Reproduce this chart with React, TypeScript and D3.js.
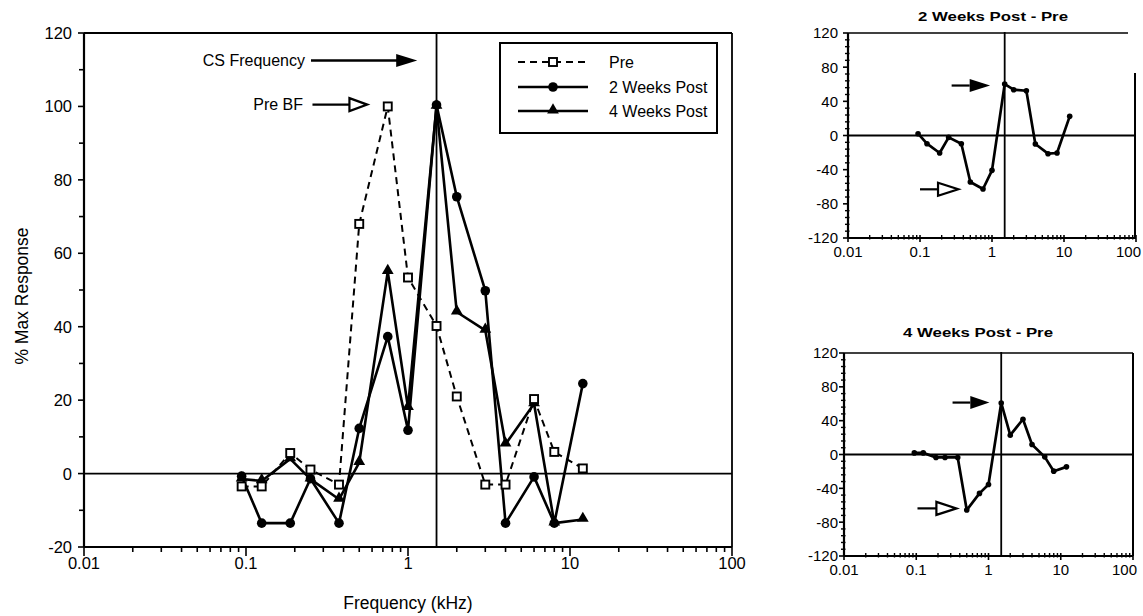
import React from "react";
import * as d3 from "d3";

// ---------- data ----------
const frequencies = [0.094, 0.125, 0.1875, 0.25, 0.375, 0.5, 0.75, 1, 1.5, 2, 3, 4, 6, 8, 12];
const preValues = [-3.5, -3.5, 5.6, 1.1, -3, 68, 100, 53.4, 40.2, 21, -3, -3, 20.3, 5.9, 1.4];
const week2Values = [-0.7, -13.5, -13.5, -1.4, -13.5, 12.3, 37.3, 11.8, 100.4, 75.4, 49.8, -13.5, -0.9, -13.5, 24.5];
const week4Values = [-1.5, -2, 4, -1.5, -7, 3, 55, 18, 100, 44, 39, 8, 19, -13.5, -12.5];
const diff2Values = [2.1, -9.6, -20.5, -2.2, -9.6, -54.4, -62.6, -40.8, 60.2, 53.6, 52.4, -10, -21.3, -20.5, 22.4];
const diff4Values = [1.9, 1.9, -3.5, -3.5, -3.5, -65.7, -46, -35.4, 60.9, 22.8, 41.7, 11.8, -2.8, -19.7, -14.6];
const csFrequency = 1.5;
const xMajorTicks = [0.01, 0.1, 1, 10, 100];
const xTickLabels = ["0.01", "0.1", "1", "10", "100"];
const mainYTicks = [-20, 0, 20, 40, 60, 80, 100, 120];
const diffYTicks = [-120, -80, -40, 0, 40, 80, 120];
const legendLabels = ["Pre", "2 Weeks Post", "4 Weeks Post"];

const FONT = "'Liberation Sans', Arial, Helvetica, sans-serif";

const xMinorTicks: number[] = [];
[0.01, 0.1, 1, 10].forEach((d) => {
  for (let m = 2; m <= 9; m++) xMinorTicks.push(d * m);
});

type Pt = [number, number];
const zip = (xs: number[], ys: number[]): Pt[] => xs.map((v, i) => [v, ys[i]]);

function MainChart() {
  const x = d3.scaleLog().domain([0.01, 100]).range([84, 732]);
  const y = d3.scaleLinear().domain([-20, 120]).range([547, 33]);
  const line = d3.line<Pt>().x((d) => x(d[0])).y((d) => y(d[1]));
  const pre = zip(frequencies, preValues);
  const w2 = zip(frequencies, week2Values);
  const w4 = zip(frequencies, week4Values);
  const tri = d3.symbol(d3.symbolTriangle, 60)();
  const [x0, x1] = x.range();
  const [y0, y1] = y.range();
  const yMinor = d3.range(-10, 120, 20);

  // annotations
  const csY = y(112.5);
  const csTip = x(1.14);
  const bfY = y(100.5);
  const bfStart = x(0.25);
  const bfBase = x(0.435);
  const bfTip = x(0.56);

  // legend
  const lgX = 500, lgY = 43, lgW = 217, lgH = 90;
  const rows = [62, 87, 111];

  return (
    <g>
      {/* plot box */}
      <line x1={x0} x2={x1} y1={y1} y2={y1} stroke="#000" strokeWidth={1.8} />
      <line x1={x1} x2={x1} y1={y1} y2={y0} stroke="#000" strokeWidth={1.8} />
      <line x1={x0} x2={x1} y1={y0} y2={y0} stroke="#000" strokeWidth={2.2} />
      <line x1={x0} x2={x0} y1={y1} y2={y0} stroke="#000" strokeWidth={2.2} />
      {/* zero line & CS line */}
      <line x1={x0} x2={x1} y1={y(0)} y2={y(0)} stroke="#000" strokeWidth={1.8} />
      <line x1={x(csFrequency)} x2={x(csFrequency)} y1={y1} y2={y0} stroke="#000" strokeWidth={1.8} />
      {/* y ticks */}
      {mainYTicks.map((t) => (
        <g key={"yt" + t}>
          <line x1={x0 - 6} x2={x0} y1={y(t)} y2={y(t)} stroke="#000" strokeWidth={1.6} />
          <text x={x0 - 12} y={y(t)} dy="0.36em" textAnchor="end" fontSize={16.5} fontFamily={FONT}>
            {t}
          </text>
        </g>
      ))}
      {yMinor.map((t) => (
        <line key={"ym" + t} x1={x0 - 5} x2={x0} y1={y(t)} y2={y(t)} stroke="#000" strokeWidth={1.6} />
      ))}
      {/* x ticks */}
      {xMajorTicks.map((t, i) => (
        <g key={"xt" + t}>
          <line x1={x(t)} x2={x(t)} y1={y0} y2={y0 + 9} stroke="#000" strokeWidth={1.6} />
          <text x={x(t)} y={y0 + 22} textAnchor="middle" fontSize={16.5} fontFamily={FONT}>
            {xTickLabels[i]}
          </text>
        </g>
      ))}
      {xMinorTicks.map((t) => (
        <line key={"xm" + t} x1={x(t)} x2={x(t)} y1={y0} y2={y0 + 5} stroke="#000" strokeWidth={1.6} />
      ))}
      {/* axis titles */}
      <text x={408} y={609} textAnchor="middle" fontSize={17.5} fontFamily={FONT}>
        Frequency (kHz)
      </text>
      <text
        transform={`translate(28,296) rotate(-90)`}
        textAnchor="middle"
        fontSize={17.5}
        fontFamily={FONT}
      >
        % Max Response
      </text>

      {/* series lines */}
      <path d={line(pre) || ""} fill="none" stroke="#000" strokeWidth={2} strokeDasharray="7,5" />
      <path d={line(w2) || ""} fill="none" stroke="#000" strokeWidth={2.6} strokeLinejoin="round" />
      <path d={line(w4) || ""} fill="none" stroke="#000" strokeWidth={2.6} strokeLinejoin="round" />
      {w4.map((d, i) => (
        <path key={"t" + i} d={tri || ""} transform={`translate(${x(d[0])},${y(d[1]) - 1})`} fill="#000" />
      ))}
      {w2.map((d, i) => (
        <circle key={"c" + i} cx={x(d[0])} cy={y(d[1])} r={4.8} fill="#000" />
      ))}
      {pre.map((d, i) => (
        <rect key={"s" + i} x={x(d[0]) - 4} y={y(d[1]) - 4} width={8} height={8} fill="#fff" stroke="#000" strokeWidth={1.9} />
      ))}

      {/* annotations */}
      <text x={305} y={csY} dy="0.36em" textAnchor="end" fontSize={16} fontFamily={FONT}>
        CS Frequency
      </text>
      <line x1={311} x2={csTip - 18} y1={csY} y2={csY} stroke="#000" strokeWidth={2.4} />
      <path d={`M${csTip - 21},${csY - 6.5}L${csTip},${csY}L${csTip - 21},${csY + 6.5}Z`} fill="#000" />
      <text x={303} y={bfY} dy="0.36em" textAnchor="end" fontSize={16} fontFamily={FONT}>
        Pre BF
      </text>
      <line x1={bfStart + 2} x2={bfBase} y1={bfY} y2={bfY} stroke="#000" strokeWidth={2.4} />
      <path d={`M${bfBase},${bfY - 6.5}L${bfTip},${bfY}L${bfBase},${bfY + 6.5}Z`} fill="#fff" stroke="#000" strokeWidth={2.2} />

      {/* legend */}
      <rect x={lgX} y={lgY} width={lgW} height={lgH} fill="#fff" stroke="#000" strokeWidth={2} />
      {legendLabels.map((lab, i) => (
        <g key={lab}>
          <line
            x1={518}
            x2={588}
            y1={rows[i]}
            y2={rows[i]}
            stroke="#000"
            strokeWidth={i === 0 ? 2 : 2.6}
            strokeDasharray={i === 0 ? "7,5" : undefined}
          />
          {i === 0 && <rect x={549} y={rows[i] - 4} width={8} height={8} fill="#fff" stroke="#000" strokeWidth={1.9} />}
          {i === 1 && <circle cx={553} cy={rows[i]} r={4.8} fill="#000" />}
          {i === 2 && <path d={tri || ""} transform={`translate(553,${rows[i] - 1})`} fill="#000" />}
          <text x={609} y={rows[i]} dy="0.36em" fontSize={16} fontFamily={FONT}>
            {lab}
          </text>
        </g>
      ))}
    </g>
  );
}

type DiffProps = {
  title: string;
  titleX: number;
  titleY: number;
  values: number[];
  xr: [number, number];
  yr: [number, number];
  labelRight: number;
  lastLabelRight: number;
  topEnd: number;
  rightStart: number;
  rightX: number;
  filledArrow: { y: number; from: number; base: number; tip: number };
  hollowArrow: { y: number; from: number; base: number; tip: number };
};

function DiffChart(p: DiffProps) {
  const x = d3.scaleLog().domain([0.01, 100]).range(p.xr);
  const y = d3.scaleLinear().domain([-120, 120]).range(p.yr);
  const line = d3.line<Pt>().x((d) => x(d[0])).y((d) => y(d[1]));
  const pts = zip(frequencies, p.values);
  const [x0, x1] = x.range();
  const [y0, y1] = y.range();
  const yMinor = d3.range(-120, 121, 8).filter((v) => v % 40 !== 0);
  const fa = p.filledArrow;
  const ha = p.hollowArrow;
  const fy = y(fa.y), hy = y(ha.y);
  const last = xMajorTicks.length - 1;
  return (
    <g>
      <line x1={x0} x2={p.topEnd} y1={y1} y2={y1} stroke="#000" strokeWidth={1.7} />
      <line x1={p.rightX} x2={p.rightX} y1={p.rightStart} y2={y0} stroke="#000" strokeWidth={2} />
      <line x1={x0} x2={x1} y1={y0} y2={y0} stroke="#000" strokeWidth={2.2} />
      <line x1={x0} x2={x0} y1={y1} y2={y0} stroke="#000" strokeWidth={2.2} />
      <line x1={x0} x2={p.rightX} y1={y(0)} y2={y(0)} stroke="#000" strokeWidth={1.8} />
      <line x1={x(csFrequency)} x2={x(csFrequency)} y1={y1 - 1} y2={y0} stroke="#000" strokeWidth={1.8} />
      {diffYTicks.map((t) => (
        <g key={"yt" + t}>
          <line x1={x0 - 5} x2={x0} y1={y(t)} y2={y(t)} stroke="#000" strokeWidth={1.6} />
          <text x={p.labelRight} y={y(t)} dy="0.36em" textAnchor="end" fontSize={15} fontFamily={FONT}>
            {t}
          </text>
        </g>
      ))}
      {yMinor.map((t) => (
        <line key={"ym" + t} x1={x0 - 3} x2={x0 + 1.5} y1={y(t)} y2={y(t)} stroke="#000" strokeWidth={1.4} />
      ))}
      {xMajorTicks.map((t, i) => (
        <g key={"xt" + t}>
          <line x1={x(t)} x2={x(t)} y1={y0 - 3} y2={y0 + 4} stroke="#000" strokeWidth={1.6} />
          <text
            x={i === last ? p.lastLabelRight : x(t)}
            y={y0 + 19}
            textAnchor={i === last ? "end" : "middle"}
            fontSize={15}
            fontFamily={FONT}
          >
            {xTickLabels[i]}
          </text>
        </g>
      ))}
      {xMinorTicks.map((t) => (
        <line key={"xm" + t} x1={x(t)} x2={x(t)} y1={y0 - 3} y2={y0 + 1.5} stroke="#000" strokeWidth={1.4} />
      ))}
      <text
        x={p.titleX}
        y={p.titleY}
        textAnchor="middle"
        fontSize={13}
        fontWeight="bold"
        fontFamily={FONT}
        textLength={150}
        lengthAdjust="spacingAndGlyphs"
      >
        {p.title}
      </text>
      <path d={line(pts) || ""} fill="none" stroke="#000" strokeWidth={2.7} strokeLinejoin="round" />
      {pts.map((d, i) => (
        <circle key={i} cx={x(d[0])} cy={y(d[1])} r={2.8} fill="#000" />
      ))}
      {/* arrows */}
      <line x1={x(fa.from)} x2={x(fa.base)} y1={fy} y2={fy} stroke="#000" strokeWidth={2.2} />
      <path d={`M${x(fa.base)},${fy - 6.5}L${x(fa.tip)},${fy}L${x(fa.base)},${fy + 6.5}Z`} fill="#000" />
      <line x1={x(ha.from)} x2={x(ha.base)} y1={hy} y2={hy} stroke="#000" strokeWidth={2.2} />
      <path d={`M${x(ha.base)},${hy - 6.5}L${x(ha.tip)},${hy}L${x(ha.base)},${hy + 6.5}Z`} fill="#fff" stroke="#000" strokeWidth={2.2} />
    </g>
  );
}

export default function App() {
  return (
    <svg
      width={1143}
      height={616}
      viewBox="0 0 1143 616"
      style={{ position: "absolute", left: 0, top: 0, background: "#fff" }}
    >
      <rect x={0} y={0} width={1143} height={616} fill="#fff" />
      <MainChart />
      <DiffChart
        title="2 Weeks Post - Pre"
        titleX={993}
        titleY={21}
        values={diff2Values}
        xr={[848, 1136]}
        yr={[238, 33]}
        labelRight={838}
        lastLabelRight={1141}
        topEnd={1128}
        rightStart={73}
        rightX={1135}
        filledArrow={{ y: 58.5, from: 0.275, base: 0.49, tip: 0.94 }}
        hollowArrow={{ y: -63, from: 0.1, base: 0.178, tip: 0.34 }}
      />
      <DiffChart
        title="4 Weeks Post - Pre"
        titleX={978}
        titleY={337}
        values={diff4Values}
        xr={[844, 1133]}
        yr={[556, 353]}
        labelRight={838}
        lastLabelRight={1137}
        topEnd={1133}
        rightStart={353}
        rightX={1133}
        filledArrow={{ y: 61.4, from: 0.318, base: 0.56, tip: 1.03 }}
        hollowArrow={{ y: -63.7, from: 0.104, base: 0.19, tip: 0.36 }}
      />
    </svg>
  );
}
